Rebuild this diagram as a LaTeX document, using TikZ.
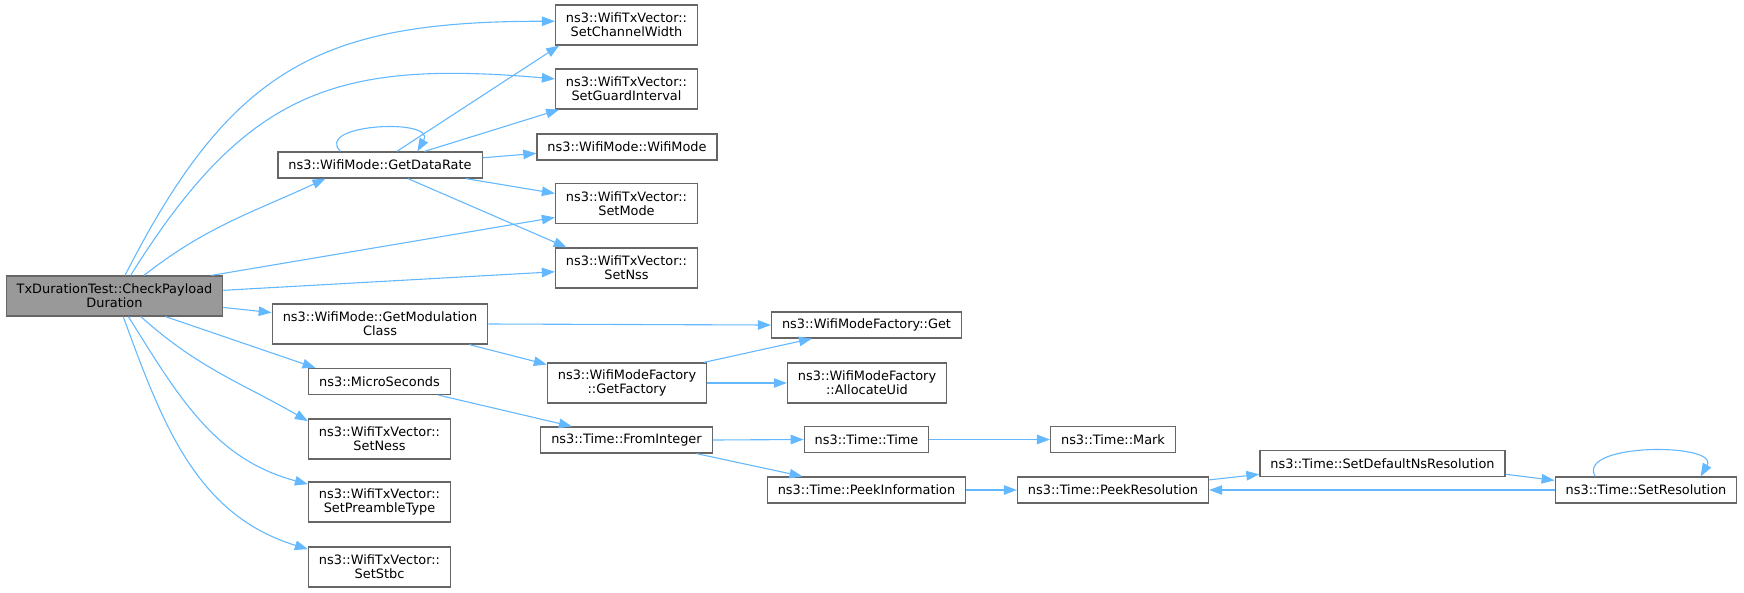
\documentclass[tikz,border=0pt]{standalone}
\usepackage{fontspec}
\setmainfont{DejaVu Sans}
\usetikzlibrary{arrows.meta}
\definecolor{edgeblue}{HTML}{63B8FF}
\definecolor{boxgray}{HTML}{666666}
\definecolor{mainfill}{HTML}{999999}

\begin{document}
\begin{tikzpicture}[->, >={Triangle[length=13pt,width=9.5pt]}, x=1pt, y=1pt, draw=edgeblue, line width=1.1pt]
		\tikzstyle{fn}=[draw=boxgray, fill=white, line width=1.2pt, text=black, font=\fontsize{12.9}{14}\selectfont, align=center, inner xsep=10.5pt, inner ysep=0pt, minimum height=26pt]
		\tikzstyle{fn2}=[fn, minimum height=40pt]
		
		\useasboundingbox (0,0) rectangle (1744,-592);
		
		\node[fn2, fill=mainfill] at (114.5,-296) (CPD) {TxDurationTest::CheckPayload\\Duration};
		
		\node[fn]  at (380,-165)   (GDR)  {ns3::WifiMode::GetDataRate};
		\node[fn2] at (380,-324)   (GMC)  {ns3::WifiMode::GetModulation\\Class};
		\node[fn]  at (379.5,-381.5) (MS) {ns3::MicroSeconds};
		\node[fn2] at (379.5,-439) (SNe)  {ns3::WifiTxVector::\\SetNess};
		\node[fn2] at (379.5,-502) (SPT)  {ns3::WifiTxVector::\\SetPreambleType};
		\node[fn2] at (379.5,-567) (SSt)  {ns3::WifiTxVector::\\SetStbc};
		
		\node[fn2] at (626.5,-25)  (SCW)  {ns3::WifiTxVector::\\SetChannelWidth};
		\node[fn2] at (626.5,-89)  (SGI)  {ns3::WifiTxVector::\\SetGuardInterval};
		\node[fn]  at (627,-147)   (WM)   {ns3::WifiMode::WifiMode};
		\node[fn2] at (626.5,-203.5) (SM) {ns3::WifiTxVector::\\SetMode};
		\node[fn2] at (626.5,-268) (SN)   {ns3::WifiTxVector::\\SetNss};
		\node[fn2] at (627,-383)   (GF)   {ns3::WifiModeFactory\\::GetFactory};
		\node[fn]  at (626.5,-440) (FI)   {ns3::Time::FromInteger};
		
		\node[fn]  at (866.5,-325) (Get)  {ns3::WifiModeFactory::Get};
		\node[fn2] at (867,-383)   (AU)   {ns3::WifiModeFactory\\::AllocateUid};
		\node[fn]  at (866.5,-439.5) (TT) {ns3::Time::Time};
		\node[fn]  at (866.5,-490) (PI)   {ns3::Time::PeekInformation};
		
		\node[fn]  at (1113,-439.5) (TM)  {ns3::Time::Mark};
		\node[fn]  at (1113,-490)  (PR)   {ns3::Time::PeekResolution};
		\node[fn]  at (1382.5,-463.5) (SDNR) {ns3::Time::SetDefaultNsResolution};
		\node[fn]  at (1646,-490)  (SR)   {ns3::Time::SetResolution};
		
		\path
		(CPD.63)  edge[out=63, in=180, looseness=1.2] (SCW.177)
		(CPD.52)  edge[out=58, in=175, looseness=1.2] (SGI.172)
		(CPD.35)  edge[out=38, in=205] (GDR.194)
		(CPD.12)  edge (SM.191)
		(CPD.3)   edge (SN.183)
		(CPD.-6)  edge (GMC.174)
		(CPD.-22) edge (MS.168)
		(CPD.-38) edge[out=-42, in=150] (SNe.166)
		(CPD.-56) edge[out=-58, in=165] (SPT.166)
		(CPD.-67) edge[out=-70, in=163] (SSt.166);
		
		\path
		(GDR.161) edge[out=135, in=60, looseness=1.3] (GDR.20)
		(GDR.39)  edge (SCW.197)
		(GDR.17)  edge (SGI.197)
		(GDR.4)   edge (WM.184)
		(GDR.-9)  edge (SM.172)
		(GDR.-26) edge (SN.161)
		(GMC.east) edge (Get.west)
		(GMC.-13) edge (GF.167)
		(GF.15)   edge (Get.194)
		(GF.east) edge (AU.west)
		(MS.-13)  edge (FI.166)
		(FI.east) edge (TT.west)
		(FI.-11)  edge (PI.168)
		(TT.east) edge (TM.west)
		(PI.east) edge (PR.west)
		(PR.6)    edge (SDNR.185)
		(SDNR.-5) edge (SR.174)
		(SR.west) edge (PR.east)
		(SR.165)  edge[out=120, in=60, looseness=0.95] (SR.14);
	\end{tikzpicture}
\end{document}
